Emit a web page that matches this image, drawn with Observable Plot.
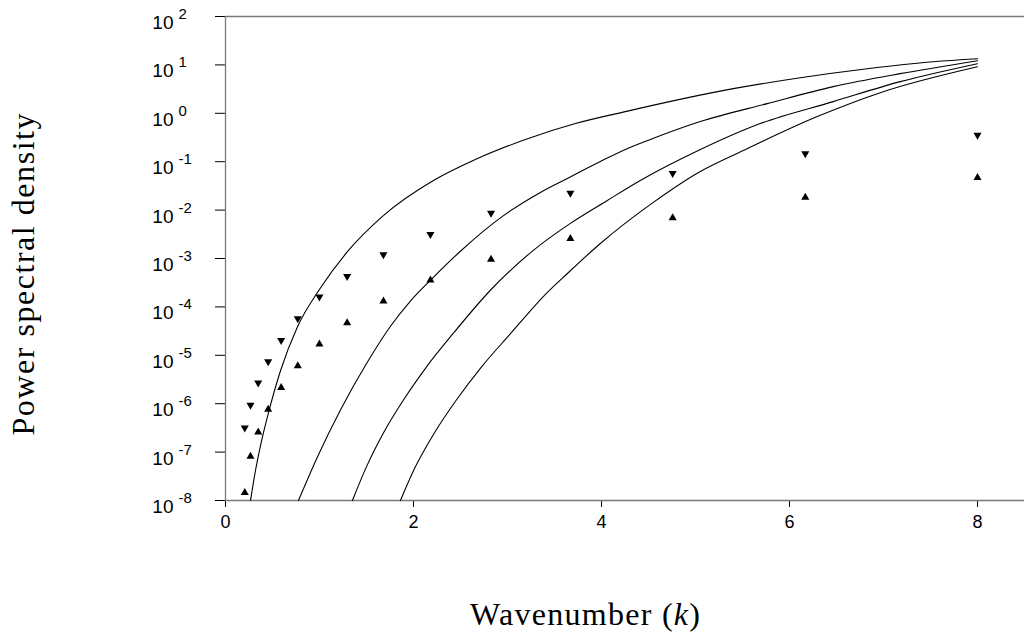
<!DOCTYPE html>
<html><head><meta charset="utf-8">
<script src="https://cdn.jsdelivr.net/npm/d3@7"></script>
<script src="https://cdn.jsdelivr.net/npm/@observablehq/plot@0.6"></script>
<style>html,body{margin:0;padding:0;background:#fff;} #chart svg{display:block;}
.serif-label{font-family:"Liberation Serif","DejaVu Serif","Times New Roman",serif !important;}
</style>
</head><body><div id="chart"></div>
<script>
// Wavenumbers of the measured points
const markerK = [0.205, 0.266, 0.348, 0.454, 0.592, 0.769, 0.999, 1.294, 1.680, 2.180, 2.825, 3.669, 4.757, 6.168, 8.000];
// log10 of power spectral density: upper series (down triangles)
const downLog10P = [-6.50, -6.03, -5.57, -5.13, -4.69, -4.24, -3.79, -3.37, -2.92, -2.50, -2.06, -1.65, -1.24, -0.83, -0.45];
// log10 of power spectral density: lower series (up triangles)
const upLog10P = [-7.84, -7.09, -6.59, -6.12, -5.67, -5.22, -4.77, -4.33, -3.88, -3.45, -3.02, -2.59, -2.16, -1.74, -1.33];

// Four model curves (k, log10 P)
const curveAK = [0.266, 0.319, 0.372, 0.457, 0.585, 0.766, 1.010, 1.297, 1.670, 2.212, 2.658, 3.190, 3.722, 4.254, 5.402, 6.115, 6.827, 7.529, 8.0];
const curveALog = [-8.0, -7.38, -6.87, -6.19, -5.32, -4.41, -3.61, -2.86, -2.13, -1.39, -0.955, -0.542, -0.212, 0.035, 0.509, 0.736, 0.922, 1.066, 1.128];
const curveBK = [0.776, 0.978, 1.223, 1.510, 1.755, 1.967, 2.180, 2.499, 2.946, 3.350, 3.594, 3.988, 4.254, 4.519, 5.051, 5.763, 6.465, 7.177, 8.0];
const curveBLog = [-8.0, -7.10, -6.13, -5.14, -4.40, -3.88, -3.45, -2.85, -2.13, -1.635, -1.388, -0.996, -0.748, -0.542, -0.171, 0.200, 0.551, 0.819, 1.087];
const curveCK = [1.350, 1.499, 1.680, 1.893, 2.137, 2.425, 2.818, 3.275, 3.669, 4.062, 4.413, 5.030, 5.689, 6.465, 7.178, 8.0];
const curveCLog = [-8.0, -7.305, -6.604, -5.924, -5.243, -4.542, -3.656, -2.831, -2.274, -1.800, -1.388, -0.769, -0.212, 0.241, 0.654, 1.025];
const curveDK = [1.861, 2.020, 2.222, 2.456, 2.722, 3.020, 3.414, 3.637, 3.988, 4.551, 5.051, 5.508, 6.295, 6.997, 8.0];
const curveDLog = [-8.0, -7.305, -6.604, -5.924, -5.243, -4.58, -3.72, -3.31, -2.69, -1.841, -1.202, -0.769, -0.068, 0.447, 0.963];

// Axis ticks
const xTicks = [0, 2, 4, 6, 8];
const yTicks = [1e2, 1e1, 1e0, 1e-1, 1e-2, 1e-3, 1e-4, 1e-5, 1e-6, 1e-7, 1e-8];
const yTickExponents = ["2", "1", "0", "-1", "-2", "-3", "-4", "-5", "-6", "-7", "-8"];

const xLabel = "Wavenumber (k)";
const yLabel = "Power spectral density";

// Build tables
const downPts = markerK.map((k, i) => ({k, p: 10 ** downLog10P[i]}));
const upPts = markerK.map((k, i) => ({k, p: 10 ** upLog10P[i]}));
const curves = [];
[[curveAK, curveALog, "A"], [curveBK, curveBLog, "B"], [curveCK, curveCLog, "C"], [curveDK, curveDLog, "D"]]
  .forEach(([ks, ls, name]) => ks.forEach((k, i) => curves.push({k, p: 10 ** ls[i], curve: name})));
const yTickRows = yTicks.map((v, i) => ({v, e: yTickExponents[i]}));

const chart = Plot.plot({
  width: 1024,
  height: 634,
  marginLeft: 225,
  marginRight: 0,
  marginTop: 16,
  marginBottom: 134,
  style: {fontFamily: "'Liberation Sans', Arial, sans-serif", fontSize: "18px", background: "#fff", color: "#000"},
  x: {domain: [0, 8.5], ticks: xTicks, tickSize: 7, tickPadding: 8, tickFormat: d => String(d), label: null},
  y: {type: "log", domain: [1e-8, 1e2], ticks: yTicks, tickSize: 10, tickFormat: () => "", label: null},
  marks: [
    Plot.ruleX([0], {stroke: "#7a7a7a", strokeWidth: 1.3}),
    Plot.ruleY([1e-8, 1e2], {stroke: "#7a7a7a", strokeWidth: 1.3}),
    Plot.line(curves, {x: "k", y: "p", z: "curve", stroke: "#000", strokeWidth: 1.1, curve: "monotone-x"}),
    Plot.dot(downPts, {x: "k", y: "p", symbol: "triangle", rotate: 180, r: 3, fill: "#000", stroke: null}),
    Plot.dot(upPts, {x: "k", y: "p", symbol: "triangle", r: 3, fill: "#000", stroke: null}),
    Plot.text(yTickRows, {y: "v", text: () => "10", frameAnchor: "left", textAnchor: "end", lineAnchor: "bottom", dx: -52, dy: 12.5, fontSize: 19, fill: "#000"}),
    Plot.text(yTickRows, {y: "v", text: "e", frameAnchor: "left", textAnchor: "start", lineAnchor: "bottom", dx: -47, dy: 2.5, fontSize: 15, fill: "#000"}),
    Plot.text([xLabel], {text: d => d, frameAnchor: "bottom", textAnchor: "middle", lineAnchor: "bottom", dx: -40, dy: 124, fontSize: 32, fill: "#000"}),
    Plot.text([yLabel], {text: d => d, frameAnchor: "left", textAnchor: "middle", lineAnchor: "bottom", rotate: -90, dx: -192, dy: 16, fontSize: 32, fill: "#000"})
  ]
});
document.getElementById("chart").appendChild(chart);

// Serif labels, italic math k in x label, and stretch labels to the reference widths
d3.select(chart).selectAll("text").each(function() {
  const t = d3.select(this);
  if (this.textContent === xLabel) {
    t.text("");
    t.append("tspan").text("Wavenumber (");
    t.append("tspan").attr("font-style", "italic").text("k");
    t.append("tspan").text(")");
    t.classed("serif-label", true).attr("textLength", 230).attr("lengthAdjust", "spacing");
  } else if (this.textContent === yLabel) {
    t.classed("serif-label", true).attr("textLength", 322).attr("lengthAdjust", "spacing");
  }
});
</script>
</body></html>
